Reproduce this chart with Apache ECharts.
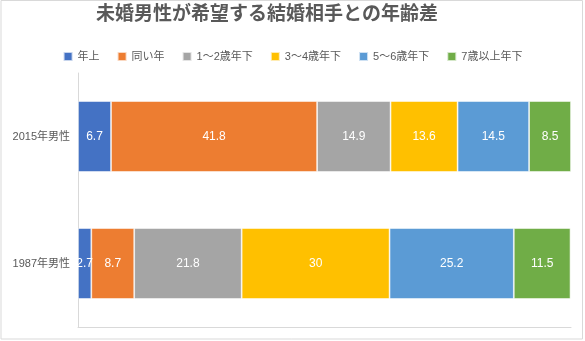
<!DOCTYPE html>
<html>
<head>
<meta charset="utf-8">
<script src="https://cdn.jsdelivr.net/npm/echarts@6/dist/echarts.min.js"></script>
<style>html,body{margin:0;padding:0;background:#fff}#c{width:585px;height:341px}</style>
</head>
<body>
<div id="c"></div>
<script>
const titleText = '未婚男性が希望する結婚相手との年齢差';
const categories = ['1987年男性', '2015年男性'];
const seriesNames = ['年上', '同い年', '1～2歳年下', '3～4歳年下', '5～6歳年下', '7歳以上年下'];
const olderValues = [2.7, 6.7];
const sameValues = [8.7, 41.8];
const younger12Values = [21.8, 14.9];
const younger34Values = [30, 13.6];
const younger56Values = [25.2, 14.5];
const younger7Values = [11.5, 8.5];
const colors = ['#4472C4', '#ED7D31', '#A5A5A5', '#FFC000', '#5B9BD5', '#70AD47'];

const FONT = '"Liberation Sans", Arial, "Noto Sans CJK JP", sans-serif';
const allValues = [olderValues, sameValues, younger12Values, younger34Values, younger56Values, younger7Values];

const chart = echarts.init(document.getElementById('c'), null, {renderer: 'canvas'});
chart.setOption({
  animation: false,
  color: colors,
  textStyle: {fontFamily: FONT},
  title: {
    text: titleText,
    left: 96, top: 3, padding: 0,
    textStyle: {fontSize: 19, fontWeight: 'bold', color: '#595959', fontFamily: '"Noto Sans CJK JP", sans-serif'}
  },
  legend: {
    data: seriesNames,
    left: 'center', top: 46,
    icon: 'rect', itemWidth: 9, itemHeight: 9, itemGap: 17,
    textStyle: {fontSize: 11, color: '#595959', fontFamily: FONT}
  },
  grid: {left: 78, right: 14, top: 73, bottom: 14, containLabel: false},
  xAxis: {
    type: 'value', min: 0, max: 100,
    axisLabel: {show: false}, axisTick: {show: false}, splitLine: {show: false},
    axisLine: {show: true, lineStyle: {color: '#d9d9d9', width: 1}}
  },
  yAxis: {
    type: 'category', data: categories,
    axisTick: {show: false},
    axisLine: {show: true, lineStyle: {color: '#d9d9d9', width: 1}},
    axisLabel: {fontSize: 11, color: '#595959', margin: 8, fontFamily: FONT}
  },
  graphic: [{
    type: 'rect', shape: {x: 1, y: 0.5, width: 581.5, height: 338.5},
    style: {fill: 'none', stroke: '#d9d9d9', lineWidth: 1}, silent: true, z: -1
  }],
  series: seriesNames.map((name, i) => ({
    name: name, type: 'bar', stack: 'total', barWidth: 71,
    data: allValues[i],
    itemStyle: {borderColor: 'rgba(255,255,255,0.7)', borderWidth: 0.8},
    label: {show: true, position: 'inside', color: '#fff', fontSize: 12, fontFamily: FONT}
  }))
});
</script>
</body>
</html>
